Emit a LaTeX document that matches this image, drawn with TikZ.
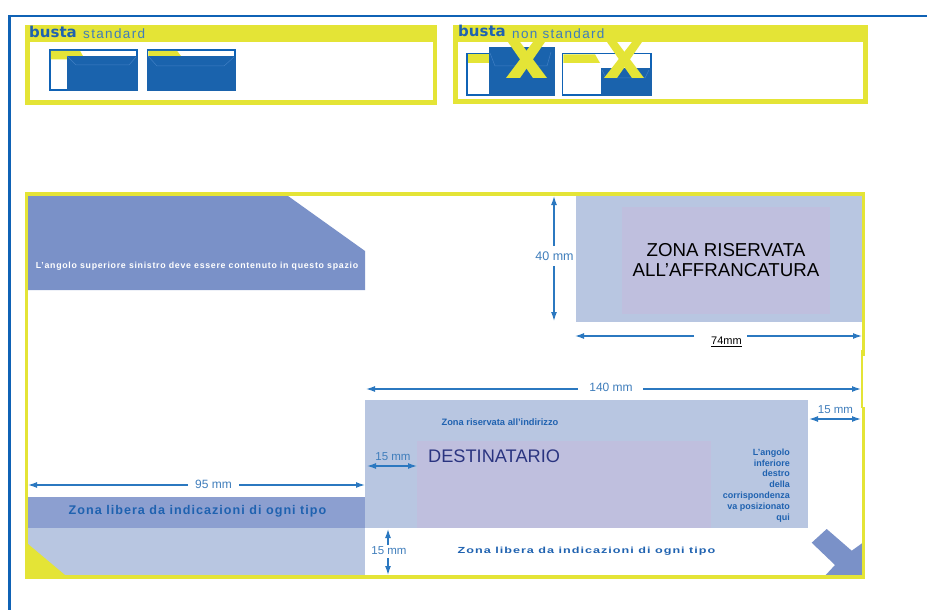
\documentclass[tikz,border=0pt]{standalone}
\usepackage{fontspec}
\setmainfont{Liberation Sans}
\newfontfamily\widefont{DejaVu Sans}
\newfontfamily\spacedfont[LetterSpace=10]{Liberation Sans}
\newfontfamily\tightfont[LetterSpace=8]{Liberation Sans}
\usetikzlibrary{arrows.meta}
\tikzset{>={Latex[length=9pt,width=6pt]}}
\definecolor{framebl}{HTML}{0F62B5}
\definecolor{yel}{HTML}{E4E436}
\definecolor{envbl}{HTML}{1A63AD}
\definecolor{flapbl}{HTML}{3F7FC4}
\definecolor{zonedk}{HTML}{7A91C8}
\definecolor{zonemd}{HTML}{8C9FD0}
\definecolor{zonelt}{HTML}{B8C6E1}
\definecolor{zonein}{HTML}{BFBFDE}
\definecolor{dimbl}{HTML}{2B78C0}
\definecolor{labbl}{HTML}{3F7DBB}
\definecolor{txtbl}{HTML}{1F62B0}
\definecolor{navy}{HTML}{2A3480}
\newcommand{\fsz}[1]{\fontsize{#1}{#1}\selectfont}
\tikzset{
  dimline/.style={->,dimbl,line width=1.3pt},
  dimlabel/.style={labbl,inner sep=0pt,font=\fsz{12}},
  zonetext/.style={txtbl,inner sep=0pt,font=\fsz{12.6}\tightfont\bfseries},
  envline/.style={framebl,line width=1.6pt,fill=white},
  flapline/.style={flapbl,line width=.5pt},
}
\begin{document}
\begin{tikzpicture}[x=1pt,y=-1pt]
  \useasboundingbox (0,0) rectangle (927,610);
  % outer frame
  \draw[framebl,line width=2.5pt] (9.5,610) -- (9.5,16) -- (927,16);
  % busta standard
  \fill[yel] (24.5,25) rectangle (437,105);
  \fill[white] (29.5,42.5) rectangle (432.5,100);
  \node[anchor=base west,inner sep=0pt,txtbl,font=\fsz{15}\widefont\bfseries] (bustaA) at (29,37.5) {busta};
  \node[anchor=base west,inner sep=0pt,labbl,font=\fsz{13.5}\spacedfont] (stdA) at (83,38.5) {standard};
  \draw[envline] (50,50) rectangle (137,90);
  \fill[yel] (50.8,50.8) -- (80,50.8) -- (83,56) -- (67,56) -- (67,59.5) -- (50.8,59.5) -- cycle;
  \fill[envbl] (67,56) rectangle (137.8,90.8);
  \draw[flapline] (67,56) -- (76,65) -- (129,65) -- (136,57);
  \draw[envline] (147.5,50) rectangle (235,90);
  \fill[yel] (148.3,50.8) -- (177,50.8) -- (181,56) -- (148.3,56) -- cycle;
  \fill[envbl] (147,56) rectangle (235.8,90.8);
  \draw[flapline] (148,56) -- (157,66) -- (224,66) -- (234,57);
  % busta non standard
  \fill[yel] (453,25) rectangle (868,104.5);
  \fill[white] (458,42.5) rectangle (863,99.5);
  \node[anchor=base west,inner sep=0pt,txtbl,font=\fsz{15}\widefont\bfseries] (bustaB) at (458,37) {busta};
  \node[anchor=base west,inner sep=0pt,labbl,font=\fsz{13.5}\spacedfont] (stdB) at (512,38.5) {non standard};
  \draw[envline] (467,53.5) rectangle (500,95);
  \fill[yel] (467.8,54.3) rectangle (489,63);
  \fill[envbl] (489,47) rectangle (554.5,96);
  \draw[flapline] (490,53) -- (495,66) -- (547,66) -- (551,52);
  \draw[envline] (562.5,53.5) rectangle (651,95);
  \fill[yel] (563.3,54.3) -- (595,54.3) -- (600,63) -- (563.3,63) -- cycle;
  \fill[envbl] (601,68) rectangle (651.5,95.8);
  \draw[flapline] (602,70) -- (606,78) -- (645,78) -- (649,70);
  % crosses
  \fill[yel] (508,42) -- (520,42) -- (547,78) -- (533,78) -- cycle;
  \fill[yel] (533,42) -- (545,42) -- (520,78) -- (506,78) -- cycle;
  \fill[yel] (607,42) -- (617,42) -- (644,78) -- (632,78) -- cycle;
  \fill[yel] (632,42) -- (642,42) -- (617,78) -- (604,78) -- cycle;
  % envelope zones
  \fill[zonedk] (28,196) -- (288,196) -- (365,251) -- (365,290) -- (28,290) -- cycle;
  \fill[zonelt] (576,196) rectangle (862,322);
  \fill[zonein] (622,207) rectangle (830,314);
  \fill[zonemd] (28,497) rectangle (365,528);
  \fill[zonelt] (28,528) rectangle (365,575);
  \fill[yel] (28,544) -- (65,575) -- (28,575) -- cycle;
  \fill[zonelt] (365,400) rectangle (808,528);
  \fill[zonein] (417,441) rectangle (711,528);
  \fill[zonedk] (811.7,542.7) -- (826.7,529) -- (851.7,550.7) -- (862,543.3) -- (862,575) -- (825.7,575) -- (835,565) -- cycle;
  % yellow border
  \draw[yel,line width=3.4pt] (863.5,356) -- (863.5,194) -- (26.3,194) -- (26.3,577) -- (863.5,577) -- (863.5,407);
  \draw[yel,line width=2.4pt] (862,350) -- (862,408);
  % texts
  \node[white,inner sep=0pt,font=\fsz{8.8}\tightfont\bfseries] (angsup) at (197,266) {L’angolo superiore sinistro deve essere contenuto in questo spazio};
  \node[black,inner sep=0pt,align=center,font=\fsz{18.7}] (affr) at (726,260.5) {ZONA RISERVATA\\[1.3pt]ALL’AFFRANCATURA};
  \node[txtbl,inner sep=0pt,font=\fsz{9.3}\bfseries] (indir) at (500,422.5) {Zona riservata all’indirizzo};
  \node[navy,anchor=base west,inner sep=0pt,font=\fsz{18.2}] (dest) at (428,462) {DESTINATARIO};
  \node[txtbl,anchor=north east,inner sep=0pt,align=right,font=\fsz{9}\bfseries] (anginf) at (790,448.5) {L’angolo\\[1.8pt]inferiore\\[1.8pt]destro\\[1.8pt]della\\[1.8pt]corrispondenza\\[1.8pt]va posizionato\\[1.8pt]qui};
  \node[zonetext] (liberaA) at (197.5,511) {Zona libera da indicazioni di ogni tipo};
  \node[zonetext] (liberaB) at (586.5,551) {\scalebox{1}[.7]{Zona libera da indicazioni di ogni tipo}};
  % dimension labels
  \node[dimlabel,font=\fsz{12.5}] (l40) at (554.5,256) {40 mm};
  \node[black,inner sep=0pt,font=\fsz{11}] (l74) at (726.5,342) {\underline{74mm}};
  \node[dimlabel] (l140) at (611,387) {140 mm};
  \node[dimlabel,font=\fsz{11.5}] (l15r) at (835.5,410) {15 mm};
  \node[dimlabel,font=\fsz{11.5}] (l15a) at (393,457) {15 mm};
  \node[dimlabel] (l95) at (213.5,484.5) {95 mm};
  \node[dimlabel,font=\fsz{11.5}] (l15b) at (389,551) {15 mm};
  % dimension arrows
  \coordinate (d40t) at (554,196);
  \coordinate (d40u) at (554,246);
  \coordinate (d40v) at (554,266);
  \coordinate (d40b) at (554,321);
  \draw[dimline] (d40u) -- (d40t);
  \draw[dimline] (d40v) -- (d40b);
  \coordinate (d74l) at (575,336);
  \coordinate (d74u) at (694,336);
  \coordinate (d74v) at (747,336);
  \coordinate (d74r) at (862,336);
  \draw[dimline] (d74u) -- (d74l);
  \draw[dimline] (d74v) -- (d74r);
  \coordinate (d140l) at (366,389);
  \coordinate (d140u) at (578,389);
  \coordinate (d140v) at (643,389);
  \coordinate (d140r) at (861,389);
  \draw[dimline] (d140u) -- (d140l);
  \draw[dimline] (d140v) -- (d140r);
  \coordinate (d15rl) at (809,419);
  \coordinate (d15rr) at (861,419);
  \draw[dimline,<->] (d15rl) -- (d15rr);
  \coordinate (d15al) at (367,466);
  \coordinate (d15ar) at (417,466);
  \draw[dimline,<->] (d15al) -- (d15ar);
  \coordinate (d95l) at (28,485);
  \coordinate (d95u) at (188,485);
  \coordinate (d95v) at (239,485);
  \coordinate (d95r) at (365,485);
  \draw[dimline] (d95u) -- (d95l);
  \draw[dimline] (d95v) -- (d95r);
  \coordinate (d15bt) at (388,529);
  \coordinate (d15bu) at (388,545);
  \coordinate (d15bv) at (388,558);
  \coordinate (d15bb) at (388,575);
  \draw[dimline] (d15bu) -- (d15bt);
  \draw[dimline] (d15bv) -- (d15bb);
\end{tikzpicture}
\end{document}
